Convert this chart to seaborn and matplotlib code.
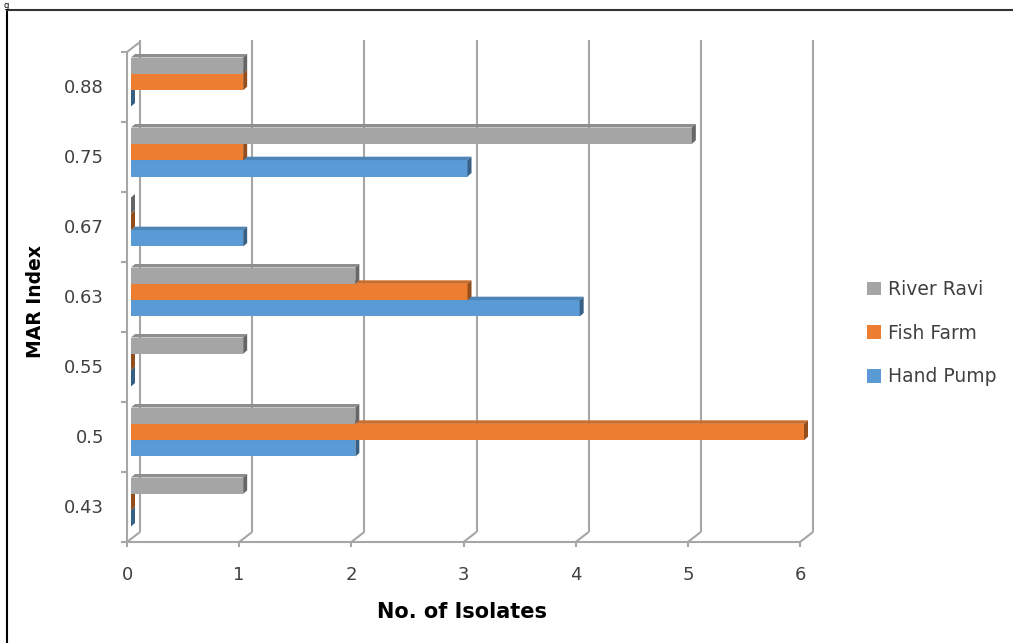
import matplotlib
matplotlib.use("Agg")
import matplotlib.pyplot as plt
import matplotlib.colors as mcolors
import numpy as np
import pandas as pd
import seaborn as sns
from matplotlib.lines import Line2D
from matplotlib.patches import Polygon
from matplotlib.transforms import ScaledTranslation

# ---- data ----
mar_index = ["0.43", "0.5", "0.55", "0.63", "0.67", "0.75", "0.88"]
hand_pump = [0, 2, 0, 4, 1, 3, 0]
fish_farm = [0, 6, 0, 3, 0, 1, 1]
river_ravi = [1, 2, 1, 2, 0, 5, 1]
sources = ["River Ravi", "Fish Farm", "Hand Pump"]
x_ticks = [0, 1, 2, 3, 4, 5, 6]

palette = {"River Ravi": "#A5A5A5", "Fish Farm": "#ED7D31", "Hand Pump": "#5B9BD5"}

df = pd.DataFrame({
    "MAR Index": mar_index * 3,
    "Isolates": river_ravi + fish_farm + hand_pump,
    "Source": [s for s in sources for _ in mar_index],
})

sns.set_theme(style="white")
plt.rcParams["font.family"] = ["DejaVu Sans"]

W, H = 1013, 643
fig = plt.figure(figsize=(W / 100, H / 100), dpi=100)
fig.patch.set_facecolor("white")

# plotting plane (pixels from the top-left corner)
x0p, x6p = 131, 804
ytop, ybot = 47, 537
ax = fig.add_axes([x0p / W, (H - ybot) / H, (x6p - x0p) / W, (ybot - ytop) / H])

order = mar_index[::-1]
sns.barplot(data=df, y="MAR Index", x="Isolates", hue="Source", order=order,
            hue_order=sources, palette=palette, orient="h", width=0.7,
            saturation=1, linewidth=0, ax=ax)

ax.set_xlim(0, 6)
ax.set_ylim(6.5, -0.5)
for s in ax.spines.values():
    s.set_visible(False)
ax.set_facecolor("none")

# data units per pixel
px_x = 6 / (x6p - x0p)
px_y = 7 / (ybot - ytop)

def shade(c, k):
    r, g, b = mcolors.to_rgb(c)
    return (r * k, g * k, b * k)

# 3-D faces on each bar: a thin top face and a darker end cap
dx, dy = 4 * px_x, 3.5 * px_y
for i, (src, cont) in enumerate(zip(sources, ax.containers)):
    z = 5 - i
    col = palette[src]
    for rect in cont:
        rect.set_zorder(z)
        x, w = rect.get_x(), rect.get_width()
        y, h = rect.get_y(), rect.get_height()
        top = Polygon([(x, y), (x + dx, y - dy), (x + w + dx, y - dy), (x + w, y)],
                      closed=True, facecolor=shade(col, 0.86), edgecolor="none",
                      zorder=z, clip_on=False)
        cap = Polygon([(x + w, y), (x + w + dx, y - dy), (x + w + dx, y + h - dy), (x + w, y + h)],
                      closed=True, facecolor=shade(col, 0.62), edgecolor="none",
                      zorder=z, clip_on=False)
        ax.add_patch(top)
        ax.add_patch(cap)

# front and back planes of the box
fdx, fdy = -4 * px_x, 5 * px_y
bdx, bdy = 9 * px_x, -5 * px_y
lc, lw = "#A6A6A6", 1.5
ylo, yhi = 6.5, -0.5
kw = dict(color=lc, lw=lw, clip_on=False, solid_capstyle="butt")

# back wall gridlines
for v in x_ticks:
    ax.plot([v + bdx, v + bdx], [ylo + bdy, yhi + bdy - 2 * px_y], zorder=1, **kw)
    # floor diagonals
    ax.plot([v + fdx, v + bdx], [ylo + fdy, ylo + bdy], zorder=1, **kw)
    # x tick marks
    ax.plot([v + fdx, v + fdx], [ylo + fdy, ylo + fdy + 5 * px_y], zorder=1, **kw)

# front floor edge
ax.plot([0 + fdx, 6 + fdx], [ylo + fdy, ylo + fdy], zorder=1, **kw)
# front left axis and its top diagonal
ax.plot([fdx, fdx], [ylo + fdy, yhi + fdy], zorder=1, **kw)
ax.plot([fdx, bdx], [yhi + fdy, yhi + bdy], zorder=1, **kw)
# y tick marks at category boundaries
for b in np.arange(-0.5, 7.0, 1.0):
    ax.plot([fdx, fdx - 6 * px_x], [b + fdy, b + fdy], zorder=1, **kw)

# tick labels
ax.set_xticks(x_ticks)
ax.set_xticklabels([str(v) for v in x_ticks])
ax.tick_params(axis="both", length=0, labelsize=13, labelcolor="#404040")
ax.tick_params(axis="x", pad=21)
ax.tick_params(axis="y", pad=19.5)
for lab in ax.get_xticklabels():
    lab.set_transform(lab.get_transform() + ScaledTranslation(-4 / 100, 0, fig.dpi_scale_trans))
for lab in ax.get_yticklabels():
    lab.set_transform(lab.get_transform() + ScaledTranslation(0, -4 / 100, fig.dpi_scale_trans))

# axis titles
ax.set_xlabel("No. of Isolates", fontsize=15, fontweight="bold", color="black")
ax.set_ylabel("MAR Index", fontsize=13.5, fontweight="bold", color="black")
ax.xaxis.set_label_coords((462 - x0p) / (x6p - x0p), -(612 - ybot) / (ybot - ytop))
ax.xaxis.label.set_va("center")
ax.yaxis.set_label_coords((35 - x0p) / (x6p - x0p), (ybot - 302) / (ybot - ytop))
ax.yaxis.label.set_va("center")

# legend
handles, labels = ax.get_legend_handles_labels()
if ax.get_legend() is not None:
    ax.get_legend().remove()
fig.legend(handles, labels, loc="upper left", bbox_to_anchor=(867 / W, 1 - 280 / H),
           frameon=False, fontsize=13.5, handlelength=0.75, handleheight=0.75,
           handletextpad=0.35, labelspacing=1.32, borderpad=0, borderaxespad=0,
           labelcolor="#404040")

# page frame and caption fragment
fig.add_artist(Line2D([6.5 / W, 6.5 / W], [0, 1 - 10 / H], color="black", lw=1.5,
                      transform=fig.transFigure))
fig.add_artist(Line2D([6.5 / W, 1], [1 - 10 / H, 1 - 10 / H], color="#333333", lw=1.5,
                      transform=fig.transFigure))
fig.text(4 / W, 1 - 0.5 / H, "g", fontsize=6, va="top", ha="left", color="black")

fig.savefig("out.png", dpi=100)
